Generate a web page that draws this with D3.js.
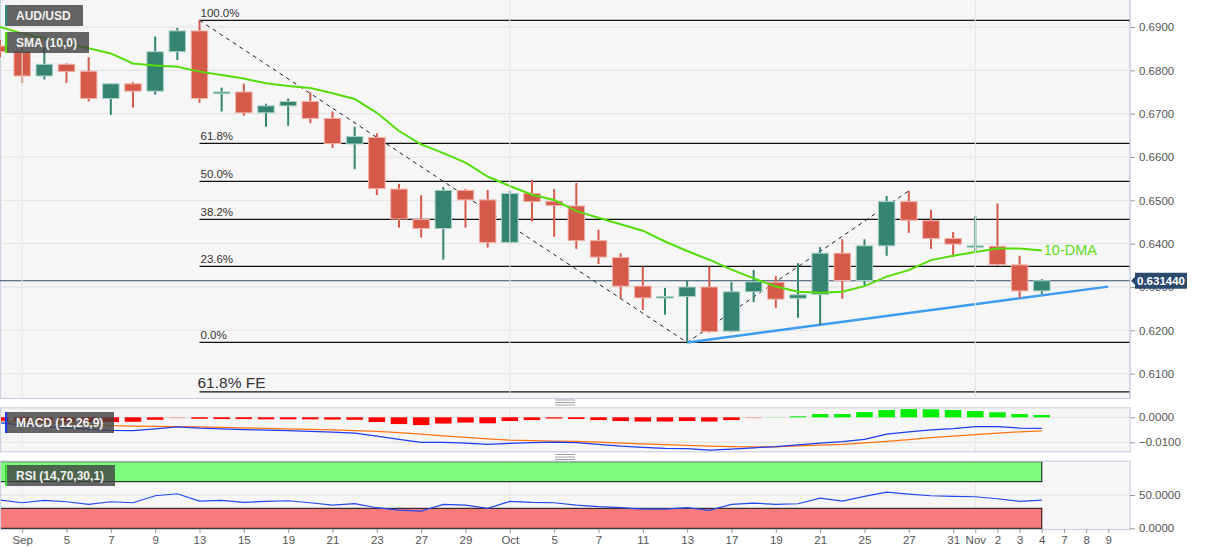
<!DOCTYPE html>
<html><head><meta charset="utf-8">
<script src="https://cdn.jsdelivr.net/npm/d3@7"></script>
<style>
html,body{margin:0;padding:0;background:#fff;}
svg{display:block;font-family:"Liberation Sans",Arial,sans-serif;}
</style></head>
<body>
<svg id="c" width="1207" height="555"></svg>
<script>
// ---------- DATA ----------
const dates = ["08-31","09-01","09-02","09-05","09-06","09-07","09-08","09-09","09-12","09-13","09-14","09-15","09-16","09-19","09-20","09-21","09-22","09-23","09-26","09-27","09-28","09-29","09-30","10-03","10-04","10-05","10-06","10-07","10-10","10-11","10-12","10-13","10-14","10-17","10-18","10-19","10-20","10-21","10-24","10-25","10-26","10-27","10-28","10-31","11-01","11-02","11-03","11-04"];
const futureDates = ["11-07","11-08","11-09"];
const open  = [0.6856,0.6843,0.6787,0.6814,0.6798,0.6735,0.6769,0.6752,0.6843,0.6891,0.6746,0.6750,0.6702,0.6718,0.6728,0.6689,0.6630,0.6645,0.6526,0.6456,0.6435,0.6523,0.6501,0.6403,0.6516,0.6498,0.6487,0.6407,0.6368,0.6302,0.6275,0.6278,0.6300,0.6198,0.6289,0.6311,0.6274,0.6283,0.6378,0.6315,0.6395,0.6497,0.6453,0.6412,0.6393,0.6394,0.6351,0.6291];
const high  = [0.6870,0.6852,0.6852,0.6816,0.6830,0.6770,0.6773,0.6878,0.6898,0.69155,0.6760,0.6769,0.6723,0.6735,0.6749,0.6705,0.6670,0.6655,0.6538,0.6512,0.6531,0.6526,0.6524,0.6522,0.6547,0.6526,0.6540,0.6432,0.6378,0.6347,0.6298,0.6315,0.6347,0.6311,0.6339,0.6325,0.6355,0.6392,0.6410,0.6410,0.6510,0.6522,0.6478,0.6427,0.6464,0.6493,0.6372,0.6318];
const low   = [0.6830,0.6771,0.6779,0.6771,0.6728,0.6697,0.6714,0.6744,0.6824,0.6725,0.6705,0.6695,0.6670,0.6672,0.6678,0.6621,0.6572,0.6512,0.6437,0.6414,0.6363,0.6437,0.6391,0.6401,0.6451,0.6416,0.6388,0.6353,0.6274,0.6247,0.6236,0.6172,0.6195,0.6196,0.6265,0.6252,0.6229,0.6212,0.6273,0.6304,0.6372,0.6425,0.6388,0.6369,0.6381,0.6349,0.6274,0.6284];
const close = [0.6843,0.6787,0.6814,0.6797,0.6735,0.6769,0.6752,0.6843,0.6891,0.6735,0.6750,0.6702,0.6718,0.6728,0.6689,0.6631,0.6647,0.6527,0.6457,0.6435,0.6523,0.6501,0.6403,0.6516,0.6497,0.6488,0.6407,0.6369,0.6302,0.6275,0.6278,0.6300,0.6197,0.6289,0.6312,0.6272,0.6282,0.6378,0.6315,0.6395,0.6497,0.6454,0.6412,0.6399,0.6395,0.6352,0.6291,0.63144];
const sma10 = [0.6900,0.6885,0.6874,0.6862,0.6851,0.6839,0.6816,0.6811,0.6808,0.6797,0.6789,0.6781,0.6770,0.6764,0.6759,0.6747,0.6734,0.6702,0.6660,0.6629,0.6609,0.6587,0.6555,0.6533,0.6513,0.6501,0.6475,0.6460,0.6445,0.6430,0.6405,0.6383,0.6363,0.6340,0.6320,0.6301,0.6289,0.6287,0.6289,0.6302,0.6324,0.6339,0.6362,0.6372,0.6381,0.6389,0.6389,0.6384];
const macdLine = [-0.0022,-0.0030,-0.0036,-0.0042,-0.0047,-0.0052,-0.0053,-0.0046,-0.0038,-0.0043,-0.0046,-0.0049,-0.0051,-0.0053,-0.0056,-0.0059,-0.0063,-0.0075,-0.0088,-0.0100,-0.0100,-0.0103,-0.0108,-0.0104,-0.0101,-0.0099,-0.0101,-0.0108,-0.0115,-0.0120,-0.0124,-0.0125,-0.0131,-0.0127,-0.0122,-0.0117,-0.0110,-0.0103,-0.0097,-0.0088,-0.0067,-0.0058,-0.0050,-0.0045,-0.0037,-0.0037,-0.0043,-0.0044];
const signalLine = [-0.0014,-0.0018,-0.0021,-0.0025,-0.0028,-0.0033,-0.0035,-0.0036,-0.0037,-0.0038,-0.0040,-0.0042,-0.0044,-0.0046,-0.0048,-0.0050,-0.0053,-0.0056,-0.0061,-0.0067,-0.0074,-0.0080,-0.0086,-0.0091,-0.0093,-0.0095,-0.0096,-0.0099,-0.0103,-0.0106,-0.0109,-0.0112,-0.0115,-0.0117,-0.0118,-0.0118,-0.0114,-0.0111,-0.0108,-0.0102,-0.0096,-0.0089,-0.0081,-0.0075,-0.0069,-0.0063,-0.0058,-0.0054];
const macdHist = [-0.0015,-0.0016,-0.0018,-0.0019,-0.0019,-0.0019,-0.0018,-0.0010,-0.0002,-0.0006,-0.0007,-0.0007,-0.0008,-0.0008,-0.0008,-0.0009,-0.0010,-0.0019,-0.0027,-0.0031,-0.0025,-0.0021,-0.0024,-0.0015,-0.0011,-0.0005,-0.0007,-0.0011,-0.0015,-0.0017,-0.0017,-0.0015,-0.0017,-0.0011,-0.0003,0.0001,0.0004,0.0013,0.0013,0.0021,0.0029,0.0033,0.0032,0.0029,0.0025,0.0020,0.0013,0.0009];
const rsi = [42.4,38.4,42,39.9,36,39.9,38.4,48.9,51.9,40.9,42,39,40.5,41.4,38.4,34.9,36.9,30.9,27.4,25.9,36,34.9,30,40.5,39,38.4,34.9,32.4,30.9,28.9,28.9,30.9,27,36,37.9,36,36.9,45.4,40.9,47.9,54.4,51.4,48.9,47.9,47.4,44.4,40.5,42.4];
const fibHigh = 0.69155, fibLow = 0.61723, fibStartDate = "09-13";
const fibRatios = [1, 0.618, 0.5, 0.382, 0.236, 0];
const fibLabels = ["100.0%","61.8%","50.0%","38.2%","23.6%","0.0%"];
const feLevel = 0.6058, feLabel = "61.8% FE";
const dashPath = [["09-13",0.69155],["10-13",0.6172],["10-27",0.6522]];
const trendLine = [["10-13",0.6172],["11-09",0.6301]];
const lastPrice = 0.63144;
const priceTicks = [0.61,0.62,0.63,0.64,0.65,0.66,0.67,0.68,0.69];
const macdTicks = [0, -0.01];
const rsiTicks = [0, 50];
const rsiBands = {over:70, under:30};
const monthStarts = ["09-01","10-03","11-01"];
const xTicks = ["09-01","09-05","09-07","09-09","09-13","09-15","09-19","09-21","09-23","09-27","09-29","10-03","10-05","10-07","10-11","10-13","10-17","10-19","10-21","10-25","10-27","10-31","11-01","11-02","11-03","11-04","11-07","11-08","11-09"];
const xTickLabels = ["Sep","5","7","9","13","15","19","21","23","27","29","Oct","5","7","11","13","17","19","21","25","27","31","Nov","2","3","4","7","8","9"];

// ---------- LAYOUT ----------
const W = 1207, H = 555, plotR = 1130;
const mainTop = 0, mainBot = 398;
const macdTop = 407.3, macdBot = 451.3;
const rsiTop = 460.7, rsiBot = 529;

const svg = d3.select("#c");
const allDates = dates.concat(futureDates);
const x = d3.scalePoint().domain(allDates).range([0, 1108.3]);
const y = d3.scaleLinear().domain([0.69, 0.61]).range([27, 373.67]);
const ym = d3.scaleLinear().domain([0, -0.01]).range([417.3, 442.3]);
const yr = d3.scaleLinear().domain([0, 100]).range([528.3, 461.7]);

const RED = "#d65a4a", RED_L = "#f2b3ab", GRN = "#35846f", GRN_L = "#a9d3c6";

// panels backgrounds
[[mainTop-1, mainBot],[macdTop, macdBot],[rsiTop, rsiBot]].forEach(([t,b])=>{
  svg.append("rect").attr("x",0.5).attr("y",t+0.5).attr("width",plotR-0.5).attr("height",b-t)
    .attr("fill","#f6f6f6").attr("stroke","#cdd3e3").attr("stroke-width",1.2);
});

svg.append("clipPath").attr("id","clipMain").append("rect").attr("x",0).attr("y",0).attr("width",plotR).attr("height",mainBot);
svg.append("clipPath").attr("id","clipMacd").append("rect").attr("x",1).attr("y",macdTop+1).attr("width",plotR-1).attr("height",macdBot-macdTop-1);
svg.append("clipPath").attr("id","clipRsi").append("rect").attr("x",1).attr("y",rsiTop+1).attr("width",plotR-1).attr("height",rsiBot-rsiTop-1);

// grid lines
const gMain = svg.append("g").attr("clip-path","url(#clipMain)");
gMain.selectAll("line.hg").data(priceTicks).join("line")
  .attr("x1",0).attr("x2",plotR).attr("y1",d=>y(d)).attr("y2",d=>y(d))
  .attr("stroke","#e2e2e2").attr("stroke-width",1);
svg.selectAll("line.mg").data(macdTicks).join("line")
  .attr("x1",1).attr("x2",plotR).attr("y1",d=>ym(d)).attr("y2",d=>ym(d))
  .attr("stroke","#e0e0e0");
svg.append("line").attr("x1",1).attr("x2",plotR).attr("y1",yr(50)).attr("y2",yr(50)).attr("stroke","#e0e0e0");

// vertical month grid
[[mainTop,mainBot],[macdTop,macdBot],[rsiTop,rsiBot]].forEach(([t,b])=>{
  svg.selectAll(null).data(monthStarts).join("line")
    .attr("x1",d=>x(d)).attr("x2",d=>x(d)).attr("y1",t+1).attr("y2",b)
    .attr("stroke","#e6e6e6").attr("stroke-width",1);
});

// fib levels
const fibStartX = x(fibStartDate);
const fibLevels = fibRatios.map(r=> fibLow + r*(fibHigh-fibLow));
gMain.selectAll("line.fib").data(fibLevels).join("line")
  .attr("x1",fibStartX).attr("x2",plotR).attr("y1",d=>y(d)).attr("y2",d=>y(d))
  .attr("stroke","#111").attr("stroke-width",1.3);
gMain.selectAll("text.fib").data(fibLevels).join("text")
  .attr("x",fibStartX+1).attr("y",d=>y(d)-3.5).text((d,i)=>fibLabels[i])
  .attr("font-size",11.5).attr("fill","#333");
gMain.append("line").attr("x1",fibStartX).attr("x2",plotR).attr("y1",y(feLevel)).attr("y2",y(feLevel))
  .attr("stroke","#111").attr("stroke-width",1.3);
gMain.append("text").attr("x",fibStartX-2).attr("y",y(feLevel)-3.5).text(feLabel)
  .attr("font-size",15.5).attr("fill","#333");

// current price line
gMain.append("line").attr("x1",0).attr("x2",plotR).attr("y1",y(lastPrice)).attr("y2",y(lastPrice))
  .attr("stroke","#2c4a6e").attr("stroke-width",1.2);

// dashed fib swing lines
gMain.append("path").datum(dashPath)
  .attr("d",d3.line().x(d=>x(d[0])).y(d=>y(d[1])))
  .attr("fill","none").attr("stroke","#222").attr("stroke-width",1).attr("stroke-dasharray","4,4");

// trend line
gMain.append("path").datum(trendLine)
  .attr("d",d3.line().x(d=>x(d[0])).y(d=>y(d[1])))
  .attr("fill","none").attr("stroke","#3d9cf0").attr("stroke-width",2.4);

// candles
const bw = 16.5;
const cg = gMain.selectAll("g.c").data(dates).join("g");
cg.append("line")
  .attr("x1",d=>x(d)).attr("x2",d=>x(d))
  .attr("y1",(d,i)=>y(high[i])).attr("y2",(d,i)=>y(low[i]))
  .attr("stroke",(d,i)=>close[i]>=open[i]?GRN:RED).attr("stroke-width",2);
cg.append("rect")
  .attr("x",d=>x(d)-bw/2)
  .attr("y",(d,i)=>y(Math.max(open[i],close[i])))
  .attr("width",bw)
  .attr("height",(d,i)=>Math.max(1.5, Math.abs(y(open[i])-y(close[i]))))
  .attr("fill",(d,i)=>close[i]>=open[i]?GRN:RED)
  .attr("stroke",(d,i)=>close[i]>=open[i]?GRN_L:RED_L).attr("stroke-width",1);

// SMA line
gMain.append("path").datum(sma10)
  .attr("d",d3.line().x((d,i)=>x(dates[i])).y(d=>y(d)))
  .attr("fill","none").attr("stroke","#55dd0a").attr("stroke-width",2);
gMain.append("text").attr("x",x("11-04")+2).attr("y",y(sma10[sma10.length-1])+4)
  .text("10-DMA").attr("font-size",14.5).attr("fill","#5fdc1c");

// ---------- MACD panel ----------
const gM = svg.append("g").attr("clip-path","url(#clipMacd)");
const hw = 16.5;
gM.selectAll("rect.h").data(macdHist).join("rect")
  .attr("x",(d,i)=>x(dates[i])-hw/2)
  .attr("y",d=>d>=0?ym(d):ym(0))
  .attr("width",hw)
  .attr("height",d=>Math.max(1, Math.abs(ym(d)-ym(0))))
  .attr("fill",d=>{
    if (d<0) return Math.abs(d)<0.0004 ? "#f4a8a8" : "#ff0000";
    return d<0.0004 ? "#b7efb7" : "#00ee00";
  });
gM.append("path").datum(signalLine)
  .attr("d",d3.line().x((d,i)=>x(dates[i])).y(d=>ym(d)))
  .attr("fill","none").attr("stroke","#ff7412").attr("stroke-width",1.2);
gM.append("path").datum(macdLine)
  .attr("d",d3.line().x((d,i)=>x(dates[i])).y(d=>ym(d)))
  .attr("fill","none").attr("stroke","#1d3cf0").attr("stroke-width",1.2);

// ---------- RSI panel ----------
const gR = svg.append("g").attr("clip-path","url(#clipRsi)");
const bandR = x(dates[dates.length-1]);
gR.append("rect").attr("x",0).attr("y",yr(100)).attr("width",bandR).attr("height",yr(rsiBands.over)-yr(100))
  .attr("fill","#7cfa7c").attr("stroke","#111").attr("stroke-width",1);
gR.append("rect").attr("x",0).attr("y",yr(rsiBands.under)).attr("width",bandR).attr("height",yr(0)-yr(rsiBands.under))
  .attr("fill","#f87b7b").attr("stroke","#111").attr("stroke-width",1);
gR.append("path").datum(rsi)
  .attr("d",d3.line().x((d,i)=>x(dates[i])).y(d=>yr(d)))
  .attr("fill","none").attr("stroke","#2648ee").attr("stroke-width",1.2);

// ---------- axes ----------
function styleAxis(g){
  g.select(".domain").remove();
  g.selectAll(".tick line").attr("stroke","#999");
  g.selectAll(".tick text").attr("fill","#555").attr("font-size",11.5).attr("font-family",'"Liberation Sans",Arial,sans-serif');
}
svg.append("g").attr("transform",`translate(${plotR},0)`)
  .call(d3.axisRight(y).tickValues(priceTicks).tickFormat(d3.format(".4f")).tickSize(5).tickPadding(4))
  .call(styleAxis);
svg.append("g").attr("transform",`translate(${plotR},0)`)
  .call(d3.axisRight(ym).tickValues(macdTicks).tickFormat(d3.format(".4f")).tickSize(5).tickPadding(4))
  .call(styleAxis);
svg.append("g").attr("transform",`translate(${plotR},0)`)
  .call(d3.axisRight(yr).tickValues(rsiTicks).tickFormat(d3.format(".4f")).tickSize(5).tickPadding(4))
  .call(styleAxis);
svg.append("g").attr("transform",`translate(0,${rsiBot})`)
  .call(d3.axisBottom(x).tickValues(xTicks).tickFormat((d,i)=>xTickLabels[i]).tickSize(4).tickPadding(3))
  .call(styleAxis);

svg.append("line").attr("x1",plotR).attr("x2",plotR).attr("y1",0).attr("y2",mainBot).attr("stroke","#cdd3e3").attr("stroke-width",1.2);

// price label (covers the 0.6300 tick label as in the reference)
const py = y(lastPrice);
const pl = svg.append("g");
pl.append("path").attr("d",`M${plotR+1},${py} L${plotR+5},${py-4} L${plotR+5},${py-8} L${plotR+57},${py-8} L${plotR+57},${py+8} L${plotR+5},${py+8} L${plotR+5},${py+4} Z`)
  .attr("fill","#2c4a6e");
pl.append("text").attr("x",plotR+31).attr("y",py+4.2).attr("text-anchor","middle")
  .attr("font-size",11.5).attr("font-weight","bold").attr("fill","#fff").text(lastPrice.toFixed(6));

// legend boxes
function legendBox(x0,y0,w,h,txt,accent){
  svg.append("rect").attr("x",x0).attr("y",y0).attr("width",w).attr("height",h).attr("fill","rgba(64,64,64,0.8)");
  svg.append("rect").attr("x",x0).attr("y",y0).attr("width",2.2).attr("height",h).attr("fill",accent);
  svg.append("text").attr("x",x0+11).attr("y",y0+h/2+4.3).text(txt)
    .attr("font-size",12).attr("font-weight","bold").attr("fill","#f2f2f2");
}
legendBox(5,5,78,21,"AUD/USD","#2e8b7a");
legendBox(5,32,84,21,"SMA (10,0)","#55dd0a");
legendBox(5,412,109,21,"MACD (12,26,9)","#1d3cf0");
legendBox(5,465,110,21,"RSI (14,70,30,1)","#3ed43e");

// panel handles
[402.5,457].forEach(hy=>{
  [-2.5,0,2.5].forEach(o=>{
    svg.append("line").attr("x1",555).attr("x2",575).attr("y1",hy+o).attr("y2",hy+o).attr("stroke","#8a8a8a").attr("stroke-width",0.8);
  });
});
</script>
</body></html>
